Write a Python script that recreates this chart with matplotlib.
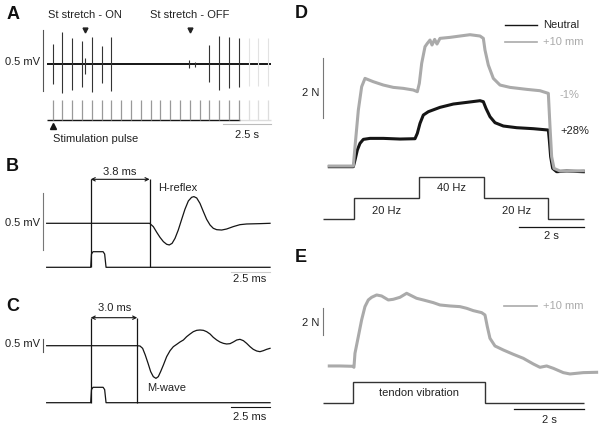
import numpy as np
import matplotlib.pyplot as plt

plt.rcParams['font.family'] = ['Liberation Sans', 'DejaVu Sans']

# ---- panel A: stretch reflex, one stimulus pulse every 0.52 s
pulse_t = np.array([0, 0.52, 1.04, 1.56, 2.08, 2.60, 3.12, 3.64, 4.16, 4.68, 5.20, 5.72,
                    6.24, 6.76, 7.28, 7.80, 8.32, 8.84, 9.36, 9.88, 10.40, 10.92, 11.44])
spike_up = np.array([0.166, 0.265, 0.216, 0.191, 0.224, 0.150, 0.224, 0, 0, 0, 0, 0,
                     0, 0, 0, 0, 0.158, 0.234, 0.224, 0.216, 0.213, 0.213, 0.213])
spike_down = np.array([0.161, 0.235, 0.211, 0.186, 0.227, 0.153, 0.219, 0, 0, 0, 0, 0,
                       0, 0, 0, 0, 0.145, 0.211, 0.192, 0.184, 0.180, 0.180, 0.180])
n_recorded = 20
artifact_t = [1.71, 7.26, 7.56]
artifact_up = [0.052, 0.035, 0.020]
artifact_down = [0.080, 0.030, 0.020]
stretch_t = [1.72, 7.29]

# ---- panel B: H-reflex (ms, mV)
hreflex_t = [3.8, 4.04, 4.26, 4.47, 4.69, 4.90, 5.07, 5.25, 5.44, 5.65, 5.87, 6.08, 6.30, 6.51,
             6.66, 6.84, 7.05, 7.27, 7.48, 7.70, 7.91, 8.13, 8.45, 8.77, 9.20, 9.63, 10.06,
             10.92, 11.57]
hreflex_v = [0.0, -0.029, -0.079, -0.123, -0.161, -0.184, -0.190, -0.176, -0.132, -0.059, 0.035,
             0.123, 0.196, 0.228, 0.234, 0.222, 0.175, 0.102, 0.035, -0.015, -0.044, -0.056,
             -0.059, -0.050, -0.029, -0.012, -0.006, -0.003, 0.0]
latency_b = 3.8

# ---- panel C: M-wave (ms, mV)
mwave_t = [3.0, 3.18, 3.35, 3.52, 3.70, 3.87, 4.04, 4.21, 4.36, 4.51, 4.69, 4.90, 5.12, 5.33,
           5.55, 5.76, 5.98, 6.19, 6.41, 6.62, 6.84, 7.05, 7.27, 7.48, 7.70, 7.91, 8.13, 8.34,
           8.56, 8.77, 8.99, 9.20, 9.42, 9.63, 9.85, 10.06, 10.28, 10.49, 10.71, 10.92, 11.14,
           11.35, 11.57]
mwave_v = [0.0, -0.012, -0.106, -0.375, -0.711, -1.047, -1.249, -1.316, -1.249, -1.047, -0.778,
           -0.442, -0.200, -0.040, 0.055, 0.149, 0.230, 0.364, 0.472, 0.566, 0.620, 0.633, 0.620,
           0.566, 0.472, 0.337, 0.230, 0.149, 0.095, 0.069, 0.082, 0.149, 0.230, 0.257, 0.203,
           0.095, -0.040, -0.147, -0.214, -0.241, -0.200, -0.147, -0.106]
latency_c = 3.0

# stimulation pulse shape (ms, a.u.)
pulse_shape_t = [0, 0.05, 0.15, 0.8, 0.9, 0.99]
pulse_shape_v = [0, 0.85, 1, 1, 0.85, 0]

# ---- panel D: force (s, N)
neutral_t = [-0.773, -0.030, 0.022, 0.094, 0.176, 0.280, 0.486, 0.899, 1.415, 1.879, 1.951,
             2.034, 2.137, 2.292, 2.653, 3.066, 3.479, 3.892, 3.995, 4.077, 4.201, 4.356,
             4.614, 5.027, 5.543, 6.007, 6.038, 6.079, 6.141, 6.265, 6.575, 7.091]
neutral_f = [0.0, 0.0, 0.222, 0.556, 0.778, 0.911, 0.944, 0.944, 0.922, 0.933, 1.111, 1.444,
             1.722, 1.833, 1.978, 2.089, 2.144, 2.2, 2.167, 1.944, 1.667, 1.467, 1.356, 1.3,
             1.267, 1.222, 0.889, 0.333, -0.056, -0.167, -0.144, -0.167]
plus10_t = [-0.773, -0.030, 0.022, 0.125, 0.228, 0.331, 0.589, 0.899, 1.208, 1.518, 1.828,
            1.951, 2.013, 2.086, 2.189, 2.261, 2.344, 2.406, 2.488, 2.560, 2.653, 2.963, 3.272,
            3.582, 3.892, 3.995, 4.046, 4.149, 4.304, 4.511, 4.820, 5.337, 5.749, 6.007, 6.059,
            6.110, 6.183, 6.368, 6.781, 7.091]
plus10_f = [0.022, 0.022, 0.667, 1.889, 2.667, 2.944, 2.833, 2.722, 2.644, 2.611, 2.556, 2.5,
            2.778, 3.444, 4.0, 4.111, 4.222, 4.056, 4.244, 4.089, 4.278, 4.311, 4.356, 4.4,
            4.356, 4.278, 3.889, 3.389, 2.944, 2.722, 2.644, 2.578, 2.533, 2.444, 1.333, 0.333,
            -0.056, -0.144, -0.144, -0.133]
stim_d_edges = [-0.98, 0, 2, 4, 6, 7.11]
stim_d_levels = [0, 1, 2, 1, 0]
stim_d_labels = ['20 Hz', '40 Hz', '20 Hz']

# ---- panel E: force during tendon vibration (s, N)
vib_t = [-0.690, -0.383, -0.019, 0.019, 0.048, 0.144, 0.239, 0.335, 0.431, 0.527, 0.670, 0.814,
         1.006, 1.149, 1.341, 1.533, 1.628, 1.820, 2.011, 2.299, 2.490, 2.778, 3.065, 3.257,
         3.448, 3.688, 3.784, 3.851, 3.927, 4.071, 4.310, 4.598, 4.885, 5.172, 5.364, 5.556,
         5.747, 6.034, 6.226, 6.609, 6.992]
vib_f = [0.025, 0.025, 0.0, -0.075, 0.974, 2.222, 3.471, 4.469, 4.969, 5.169, 5.343, 5.268,
         4.969, 5.019, 5.169, 5.468, 5.343, 5.094, 4.969, 4.769, 4.594, 4.519, 4.469, 4.345,
         4.170, 4.020, 3.845, 2.971, 2.097, 1.523, 1.223, 0.899, 0.599, 0.175, -0.075, 0.025,
         -0.150, -0.474, -0.574, -0.474, -0.449]
stim_e_edges = [-0.88, 0, 3.78, 6.63]
stim_e_levels = [0, 1, 0]

W, H = 603, 428
fig = plt.figure(figsize=(W / 100, H / 100), dpi=100)
BLACK = '#151515'
GREY = '#aaaaaa'


def overlay(x0, sx, y0, sy):
    # transparent axes over the whole figure: data (0, 0) sits at pixel (x0, y0)
    ax = fig.add_axes([0, 0, 1, 1])
    ax.set_xlim(-x0 / sx, (W - x0) / sx)
    ax.set_ylim((y0 - H) / sy, y0 / sy)
    ax.axis('off')
    return ax


def label(x, y, s, ha='center', color='#222222', size=8, **kw):
    fig.text(x / W, 1 - y / H, s, ha=ha, va='center', color=color, fontsize=size, **kw)


for ch, x, y in [('A', 13, 14.5), ('B', 12, 166.5), ('C', 13, 306.5), ('D', 301, 14), ('E', 301, 257.5)]:
    label(x, y, ch, size=13, weight='bold', color='#111111')

# ---------- A
ax = overlay(52.5, 18.85, 64.3, 122)
ax.hlines(0, -0.29, 11.57, color=BLACK, lw=1.4)
rec = np.arange(len(pulse_t)) < n_recorded
hit = spike_up > 0
ax.vlines(pulse_t[rec & hit], -spike_down[rec & hit], spike_up[rec & hit], color='#333333', lw=0.8)
ax.vlines(pulse_t[~rec & hit], -spike_down[~rec & hit], spike_up[~rec & hit], color='#e2e2e2', lw=0.8)
ax.vlines(artifact_t, -np.array(artifact_down), artifact_up, color='#333333', lw=0.8)
ax.plot([-0.49, -0.49], [-0.219, 0.281], color='#555555', lw=0.8)
ax.plot(stretch_t, [0.281, 0.281], 'v', ms=3.5, color='#222222')
label(40, 62, '0.5 mV', ha='right')
label(85.3, 15, 'St stretch - ON')
label(190, 15, 'St stretch - OFF')

axs = overlay(52.5, 18.85, 120, 20)
axs.hlines(0, -0.29, 9.95, color=BLACK, lw=1.0)
axs.hlines(0, 9.95, 11.57, color='#dddddd', lw=1.0)
axs.vlines(pulse_t[rec], 0, 1, color='#999999', lw=0.9)
axs.vlines(pulse_t[~rec], 0, 1, color='#dddddd', lw=0.9)
axs.plot([0], [-0.3], '^', ms=5, color=BLACK)
axs.plot([9.07, 11.57], [-0.2, -0.2], color='#bbbbbb', lw=0.8)
label(53, 139, 'Stimulation pulse', ha='left')
label(246.5, 135, '2.5 s')

# ---------- B
ax = overlay(90.7, 15.5, 223.3, 114)
ax.plot([-2.84] + hreflex_t, [0] + hreflex_v, color=BLACK, lw=0.9)
ax.plot([-3.06, -3.06], [-0.234, 0.263], color='#777777', lw=0.8)
axs = overlay(90.7, 15.5, 267.3, 15.6)
axs.plot([-2.84] + pulse_shape_t + [11.57], [0] + pulse_shape_v + [0], color=BLACK, lw=0.9)
axs.vlines([0, latency_b], 0, 5.64, color=BLACK, lw=0.9)
axs.annotate('', xy=(latency_b, 5.64), xytext=(0, 5.64),
             arrowprops=dict(arrowstyle='<->', lw=0.8, color=BLACK, shrinkA=0, shrinkB=0,
                             mutation_scale=6))
axs.plot([9.07, 11.57], [-0.27, -0.27], color='#cccccc', lw=0.8)
label(40, 223, '0.5 mV', ha='right')
label(120, 172, '3.8 ms')
label(158, 187.7, 'H-reflex', ha='left')
label(250, 279, '2.5 ms')

# ---------- C
ax = overlay(90.7, 15.5, 345.7, 24.8)
ax.plot([-2.84] + mwave_t, [0] + mwave_v, color=BLACK, lw=0.9)
ax.plot([-3.06, -3.06], [-0.242, 0.258], color='#555555', lw=0.8)
axs = overlay(90.7, 15.5, 402.7, 15.4)
axs.plot([-2.84] + pulse_shape_t + [11.57], [0] + pulse_shape_v + [0], color=BLACK, lw=0.9)
axs.vlines([0, latency_c], 0, 5.52, color=BLACK, lw=0.9)
axs.annotate('', xy=(latency_c, 5.52), xytext=(0, 5.52),
             arrowprops=dict(arrowstyle='<->', lw=0.8, color=BLACK, shrinkA=0, shrinkB=0,
                             mutation_scale=6))
axs.plot([9.07, 11.57], [-0.26, -0.26], color=BLACK, lw=0.8)
label(40, 344.3, '0.5 mV', ha='right')
label(115, 308.3, '3.0 ms')
label(146.7, 388.3, 'M-wave', ha='left')
label(250, 416.7, '2.5 ms')

# ---------- D
ax = overlay(354.3, 32.3, 166.7, 30)
ax.plot(neutral_t, neutral_f, color=BLACK, lw=2.2, solid_joinstyle='round')
ax.plot(plus10_t, plus10_f, color=GREY, lw=2.2, solid_joinstyle='round')
ax.plot([-0.96, -0.96], [1.61, 3.61], color='#777777', lw=0.8)
ax.plot([4.67, 5.65], [4.72, 4.72], color=BLACK, lw=1.0)
ax.plot([4.67, 5.65], [4.17, 4.17], color=GREY, lw=1.2)
label(543.3, 25, 'Neutral', ha='left')
label(543.3, 41.7, '+10 mm', ha='left', color=GREY)
label(560, 95, '-1%', ha='left', color=GREY)
label(560.7, 130.7, '+28%', ha='left')
label(319.5, 93.3, '2 N', ha='right')
axs = overlay(354.3, 32.3, 219.3, 21.3)
axs.stairs(stim_d_levels, stim_d_edges, baseline=None, color='#333333', lw=1.0)
axs.plot([5.11, 7.11], [-0.35, -0.35], color=BLACK, lw=0.9)
for s, x, y in zip(stim_d_labels, [386.7, 451.7, 516.7], [210.7, 187.7, 210.7]):
    label(x, y, s)
label(551.7, 236, '2 s')

# ---------- E
ax = overlay(353.3, 34.8, 366.3, 13.35)
ax.plot(vib_t, vib_f, color=GREY, lw=2.2, solid_joinstyle='round')
ax.plot([-0.862, -0.862], [2.34, 4.34], color='#777777', lw=0.8)
ax.plot([4.33, 5.29], [4.54, 4.54], color=GREY, lw=1.2)
label(543.3, 305.7, '+10 mm', ha='left', color=GREY)
label(319.5, 322.7, '2 N', ha='right')
axs = overlay(353.3, 34.8, 403.3, 21.6)
axs.stairs(stim_e_levels, stim_e_edges, baseline=None, color='#333333', lw=1.0)
axs.plot([4.63, 6.63], [-0.28, -0.28], color=BLACK, lw=0.9)
label(419, 393.3, 'tendon vibration')
label(549.3, 420, '2 s')

fig.savefig('out.png', dpi=100)
